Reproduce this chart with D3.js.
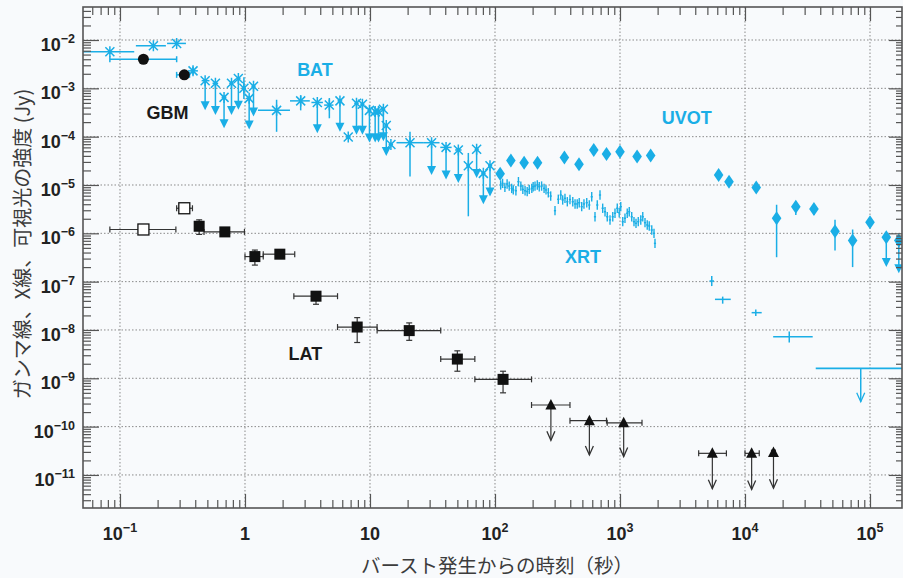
<!DOCTYPE html>
<html>
<head>
<meta charset="utf-8">
<script src="https://cdn.jsdelivr.net/npm/d3@7"></script>
<style>
  body { margin: 0; background: #f8fafc; }
  svg { display: block; font-family: "Liberation Sans", Arial, sans-serif; }
</style>
</head>
<body>
<div id="chart"></div>
<script>
// ---- data (time in s, flux in Jy) ----
// Swift BAT (asterisks); ul = upper limit, low = arrow tip for limits
const batT   = [0.083, 0.185, 0.284, 0.384, 0.48, 0.58, 0.68, 0.78, 0.885, 0.98, 1.08, 1.17, 1.79, 2.79, 3.79, 4.73, 5.75, 6.7, 7.8, 8.7, 9.9, 11, 11.7, 12.8, 13.5, 14.7, 20.9, 31.1, 40.6, 50.9, 61.2, 71.3, 80.7, 91.2];
const batF   = [5.7e-3, 7.6e-3, 8.5e-3, 2.3e-3, 1.44e-3, 1.27e-3, 6.5e-4, 1.27e-3, 1.6e-3, 1.0e-3, 6.2e-4, 1.1e-3, 3.5e-4, 5.5e-4, 5.1e-4, 4.5e-4, 5.5e-4, 9.8e-5, 4.9e-4, 4.7e-4, 3.5e-4, 3.3e-4, 3.3e-4, 3.7e-4, 1.7e-4, 6.9e-5, 7.5e-5, 7.5e-5, 6e-5, 5.3e-5, 2.5e-5, 5.5e-5, 1.74e-5, 2.5e-5];
const batTlo = [0.04, 0.134, 0.238, 0.35, 0.45, 0.55, 0.65, 0.75, 0.85, 0.94, 1.02, 1.13, 1.27, 2.29, 3.4, 4.3, 5.5, 6.4, 7.5, 8.4, 9.6, 10.7, 11.4, 12.4, 13.1, 14.1, 16.3, 26.6, 36.5, 48, 59, 69, 78, 88];
const batThi = [0.13, 0.233, 0.337, 0.42, 0.52, 0.61, 0.71, 0.81, 0.92, 1.02, 1.12, 1.21, 2.29, 3.3, 4.2, 5.1, 6.0, 7.0, 8.1, 9.0, 10.2, 11.3, 12.0, 13.2, 13.9, 15.3, 26.6, 36, 45, 54, 63, 74, 84, 95];
const batLow = [5.7e-3, 7.6e-3, 8.5e-3, 1.9e-3, 3.5e-4, 2.8e-4, 1.5e-4, 2.8e-4, 3.6e-4, 6e-4, 1.4e-4, 2.6e-4, 1.26e-4, 3.5e-4, 1.18e-4, 2.4e-4, 1.26e-4, 9.8e-5, 1.1e-4, 1.1e-4, 7.6e-5, 7.6e-5, 7.6e-5, 8e-5, 4e-5, 6.9e-5, 1.5e-5, 1.6e-5, 1.3e-5, 1.1e-5, 2.25e-6, 1.4e-5, 4e-6, 5.8e-6];
const batHigh = [5.7e-3, 7.6e-3, 8.5e-3, 2.8e-3, 1.44e-3, 1.27e-3, 6.5e-4, 1.27e-3, 1.6e-3, 1.7e-3, 6.2e-4, 1.1e-3, 5.8e-4, 7.2e-4, 5.1e-4, 6.3e-4, 5.5e-4, 9.8e-5, 4.9e-4, 4.7e-4, 3.5e-4, 3.3e-4, 3.3e-4, 3.7e-4, 1.7e-4, 6.9e-5, 1.26e-4, 7.5e-5, 6e-5, 5.3e-5, 4.6e-5, 5.5e-5, 1.74e-5, 2.5e-5];
const batUL  = [0, 0, 0, 0, 1, 1, 1, 1, 1, 0, 1, 1, 0, 0, 1, 0, 1, 0, 1, 1, 1, 1, 1, 1, 1, 0, 0, 1, 1, 1, 0, 1, 1, 1];

// Fermi GBM (filled circles)
const gbmT   = [0.154, 0.327];
const gbmF   = [4.0e-3, 1.9e-3];
const gbmTlo = [0.083, 0.284];
const gbmThi = [0.284, 0.36];

// Fermi LAT detections (squares, first two open)
const latT    = [0.154, 0.327, 0.43, 0.69, 1.2, 1.9, 3.7, 7.9, 20.6, 50, 116];
const latF    = [1.2e-6, 3.3e-6, 1.4e-6, 1.07e-6, 3.3e-7, 3.7e-7, 5e-8, 1.15e-8, 9.7e-9, 2.5e-9, 9.5e-10];
const latTlo  = [0.083, 0.284, 0.41, 0.47, 1.0, 1.4, 2.46, 5.5, 11.4, 36.8, 69];
const latThi  = [0.28, 0.38, 0.46, 0.99, 1.4, 2.5, 5.5, 11.4, 36.8, 69, 196];
const latFlo  = [1.05e-6, 2.9e-6, 0.95e-6, 1.07e-6, 2.2e-7, 3.4e-7, 3.4e-8, 5.5e-9, 6.1e-9, 1.4e-9, 5.0e-10];
const latFhi  = [1.35e-6, 3.7e-6, 1.9e-6, 1.07e-6, 4.5e-7, 4.1e-7, 6e-8, 1.8e-8, 1.4e-8, 3.7e-9, 1.4e-9];
const latOpen = [1, 1, 0, 0, 0, 0, 0, 0, 0, 0, 0];

// Fermi LAT upper limits (triangles)
const latUlT   = [280, 569, 1070, 5480, 11300, 16900];
const latUlF   = [2.8e-10, 1.33e-10, 1.2e-10, 2.8e-11, 2.8e-11, 2.9e-11];
const latUlTlo = [196, 398, 790, 4260, 10000, 16300];
const latUlThi = [398, 780, 1500, 7100, 13000, 17500];
const latUlTip = [5.2e-11, 2.6e-11, 2.4e-11, 5.2e-12, 5.0e-12, 5.3e-12];

// Swift UVOT (diamonds)
const uvotT  = [110, 134, 171, 219, 359, 470, 617, 780, 1000, 1370, 1760, 6150, 7450, 12300, 17900, 25500, 35600, 52500, 72600, 100000, 135000, 170000];
const uvotF  = [1.7e-5, 3.2e-5, 2.9e-5, 2.9e-5, 3.7e-5, 2.7e-5, 5.3e-5, 4.4e-5, 4.9e-5, 3.9e-5, 4.06e-5, 1.6e-5, 1.17e-5, 8.9e-6, 2.05e-6, 3.55e-6, 3.2e-6, 1.1e-6, 7.1e-7, 1.7e-6, 8.3e-7, 7.1e-7];
const uvotLo = [1.7e-5, 3.2e-5, 2.9e-5, 2.9e-5, 3.7e-5, 2.7e-5, 5.3e-5, 4.4e-5, 4.9e-5, 3.9e-5, 4.06e-5, 1.6e-5, 1.17e-5, 8.9e-6, 3.2e-7, 2.4e-6, 2.4e-6, 4.4e-7, 2e-7, 1.45e-6, 2.0e-7, 1.5e-7];
const uvotHi = [1.7e-5, 3.2e-5, 2.9e-5, 2.9e-5, 3.7e-5, 2.7e-5, 5.3e-5, 4.4e-5, 4.9e-5, 3.9e-5, 4.06e-5, 1.6e-5, 1.17e-5, 8.9e-6, 3.9e-6, 4.5e-6, 4.05e-6, 1.9e-6, 1.2e-6, 2.0e-6, 8.3e-7, 7.1e-7];
const uvotUL = [0, 0, 0, 0, 0, 0, 0, 0, 0, 0, 0, 0, 0, 0, 0, 0, 0, 0, 0, 0, 1, 1];

// Swift XRT early light curve (small crosses)
const xrtT = [111, 115, 120, 125, 130, 136, 140, 147, 154, 161, 167, 174, 181, 188, 197, 202, 209, 218, 226, 236, 247, 256, 267, 279, 302, 321, 336, 348, 363, 379, 398, 419, 437, 455, 472, 494, 515, 542, 568, 594, 631, 658, 692, 727, 759, 791, 832, 875, 912, 951, 986, 1014, 1052, 1096, 1143, 1186, 1241, 1294, 1343, 1400, 1466, 1521, 1585, 1652, 1714, 1795, 1871, 1905];
const xrtF = [1.0e-5, 1.08e-5, 8.95e-6, 1.05e-5, 9.5e-6, 8.5e-6, 7.9e-6, 7.6e-6, 1.17e-5, 9.5e-6, 8.1e-6, 7.6e-6, 7.3e-6, 8.1e-6, 8.5e-6, 9.2e-6, 9.5e-6, 1.0e-5, 9.2e-6, 9.5e-6, 8.5e-6, 7.9e-6, 6.9e-6, 5.9e-6, 2.94e-6, 5.06e-6, 6.2e-6, 4.9e-6, 5.3e-6, 4.5e-6, 5.0e-6, 4.5e-6, 4.05e-6, 4.05e-6, 4.3e-6, 3.56e-6, 4.05e-6, 4.3e-6, 3.85e-6, 5.7e-6, 2.2e-6, 3.85e-6, 6.2e-6, 3.3e-6, 2.8e-6, 2.2e-6, 1.89e-6, 2.2e-6, 2.6e-6, 3.3e-6, 2.67e-6, 3.56e-6, 1.74e-6, 2.05e-6, 2.6e-6, 2.8e-6, 2.2e-6, 1.74e-6, 1.61e-6, 1.74e-6, 1.89e-6, 2.2e-6, 1.66e-6, 1.49e-6, 1.42e-6, 1.17e-6, 1.0e-6, 6.2e-7];
const xrtTerr = 0.02;   // relative half-width of time bins
const xrtFerr = 0.25;   // relative flux error

// Swift XRT late points and the last upper limit
const xrtLateT   = [5420, 6630, 12200, 22600];
const xrtLateF   = [1.03e-7, 4.3e-8, 2.28e-8, 7.26e-9];
const xrtLateTlo = [5200, 5750, 11300, 16800];
const xrtLateThi = [5650, 7690, 13600, 34800];
const xrtLateFlo = [8.1e-8, 3.5e-8, 1.95e-8, 5.5e-9];
const xrtLateFhi = [1.31e-7, 4.9e-8, 2.65e-8, 9.3e-9];
const xrtUl = { tlo: 36800, thi: 200000, f: 1.61e-9, tArrow: 84300, tip: 3.28e-10 };

// instrument labels: [text, time, flux, colour key]
const instLabels = [
  ['BAT', 3.63, 1.8e-3, 'c'],
  ['GBM', 0.24, 2.3e-4, 'k'],
  ['UVOT', 3420, 1.8e-4, 'c'],
  ['XRT', 506, 2.4e-7, 'c'],
  ['LAT', 3.04, 2.4e-9, 'k']
];

const xMajor = [0.1, 1, 10, 100, 1000, 1e4, 1e5];
const yMajor = [1e-11, 1e-10, 1e-9, 1e-8, 1e-7, 1e-6, 1e-5, 1e-4, 1e-3, 1e-2];
const xTitle = 'バースト発生からの時刻（秒）';
const yTitle = 'ガンマ線、X線、可視光の強度 (Jy)';

// ---- layout ----
const cyan = '#1aaee6';
const ink = '#111';
const width = 903, height = 578;
const margin = { top: 7, right: 1, bottom: 70, left: 83 };
const innerW = width - margin.left - margin.right;
const innerH = height - margin.top - margin.bottom;

const svg = d3.select('#chart').append('svg')
  .attr('width', width).attr('height', height);
const g = svg.append('g').attr('transform', `translate(${margin.left},${margin.top})`);

const x = d3.scaleLog().domain([0.0506, 1.803e5]).range([0, innerW]);
const y = d3.scaleLog().domain([2.07e-12, 0.0482]).range([innerH, 0]);

function minors(scale, e0, e1) {
  const out = [];
  const [a, b] = scale.domain();
  for (let e = e0; e <= e1; e++) for (let k = 2; k <= 9; k++) {
    const v = k * Math.pow(10, e);
    if (v > a && v < b) out.push(v);
  }
  return out;
}
const xMinor = minors(x, -2, 5);
const yMinor = minors(y, -12, -2);

// grid
g.append('g').selectAll('line').data(xMajor).join('line')
  .attr('x1', d => x(d)).attr('x2', d => x(d)).attr('y1', 0).attr('y2', innerH)
  .attr('stroke', '#8a8a8a').attr('stroke-dasharray', '1.5,2');
g.append('g').selectAll('line').data(yMajor).join('line')
  .attr('y1', d => y(d)).attr('y2', d => y(d)).attr('x1', 0).attr('x2', innerW)
  .attr('stroke', '#8a8a8a').attr('stroke-dasharray', '1.5,2');

// clip for data
svg.append('defs').append('clipPath').attr('id', 'clip')
  .append('rect').attr('width', innerW).attr('height', innerH);
const p = g.append('g').attr('clip-path', 'url(#clip)');

function seg(sel, x1, y1, x2, y2, col, w) {
  return sel.append('line').attr('x1', x1).attr('y1', y1).attr('x2', x2).attr('y2', y2)
    .attr('stroke', col).attr('stroke-width', w || 1.5);
}
function filledHead(sel, cx, tipY, col) {
  sel.append('path').attr('d', `M${cx - 4.5},${tipY - 9}L${cx + 4.5},${tipY - 9}L${cx},${tipY}Z`).attr('fill', col);
}
function openHead(sel, cx, tipY, col) {
  sel.append('path').attr('d', `M${cx - 4},${tipY - 9}L${cx},${tipY}L${cx + 4},${tipY - 9}`)
    .attr('fill', 'none').attr('stroke', col).attr('stroke-width', 1.3);
}

// XRT early crosses
const xrtRows = xrtT.map((t, i) => ({ t, f: xrtF[i] }));
const xrtG = p.append('g').attr('stroke', cyan).attr('stroke-width', 1.4);
xrtG.selectAll('.xv').data(xrtRows).join('line').attr('class', 'xv')
  .attr('x1', d => x(d.t)).attr('x2', d => x(d.t))
  .attr('y1', d => y(d.f * (1 + xrtFerr))).attr('y2', d => y(d.f / (1 + xrtFerr)));
xrtG.selectAll('.xh').data(xrtRows).join('line').attr('class', 'xh')
  .attr('x1', d => x(d.t * (1 - xrtTerr))).attr('x2', d => x(d.t * (1 + xrtTerr)))
  .attr('y1', d => y(d.f)).attr('y2', d => y(d.f));

// XRT late crosses
xrtLateT.forEach((t, i) => {
  seg(p, x(xrtLateTlo[i]), y(xrtLateF[i]), x(xrtLateThi[i]), y(xrtLateF[i]), cyan);
  seg(p, x(t), y(xrtLateFhi[i]), x(t), y(xrtLateFlo[i]), cyan);
});
seg(p, x(xrtUl.tlo), y(xrtUl.f), x(xrtUl.thi), y(xrtUl.f), cyan, 1.8);
seg(p, x(xrtUl.tArrow), y(xrtUl.f), x(xrtUl.tArrow), y(xrtUl.tip), cyan);
openHead(p, x(xrtUl.tArrow), y(xrtUl.tip), cyan);

// BAT
const batRows = batT.map((t, i) => ({ t, f: batF[i], tlo: batTlo[i], thi: batThi[i], lo: batLow[i], hi: batHigh[i], ul: batUL[i] }));
const batG = p.append('g');
batRows.forEach(d => {
  const cx = x(d.t), cy = y(d.f);
  seg(batG, x(d.tlo), cy, x(d.thi), cy, cyan);
  if (d.ul) {
    seg(batG, cx, cy, cx, y(d.lo) - 6, cyan);
    filledHead(batG, cx, y(d.lo), cyan);
  } else if (d.lo !== d.hi) {
    seg(batG, cx, y(d.hi), cx, y(d.lo), cyan);
  }
  const s = 4.5;
  batG.append('path')
    .attr('d', `M${cx - s},${cy - s}L${cx + s},${cy + s}M${cx - s},${cy + s}L${cx + s},${cy - s}M${cx},${cy - 5.5}L${cx},${cy + 5.5}`)
    .attr('stroke', cyan).attr('stroke-width', 1.5).attr('fill', 'none');
  batG.append('circle').attr('cx', cx).attr('cy', cy).attr('r', 1.8).attr('fill', cyan);
});

// UVOT
const uvotRows = uvotT.map((t, i) => ({ t, f: uvotF[i], lo: uvotLo[i], hi: uvotHi[i], ul: uvotUL[i] }));
const uvG = p.append('g');
uvotRows.forEach(d => {
  const cx = x(d.t), cy = y(d.f);
  if (d.ul) {
    seg(uvG, cx, cy, cx, y(d.lo) - 6, cyan);
    filledHead(uvG, cx, y(d.lo), cyan);
  } else if (d.lo !== d.hi) {
    seg(uvG, cx, y(d.hi), cx, y(d.lo), cyan);
  }
});
uvG.selectAll('path.dia').data(uvotRows).join('path').attr('class', 'dia')
  .attr('d', d => `M${x(d.t)},${y(d.f) - 7}L${x(d.t) + 4.8},${y(d.f)}L${x(d.t)},${y(d.f) + 7}L${x(d.t) - 4.8},${y(d.f)}Z`)
  .attr('fill', cyan);

// GBM
const gbmRows = gbmT.map((t, i) => ({ t, f: gbmF[i], tlo: gbmTlo[i], thi: gbmThi[i] }));
const gbG = p.append('g');
gbmRows.forEach(d => {
  const cy = y(d.f);
  seg(gbG, x(d.tlo), cy, x(d.thi), cy, cyan);
  seg(gbG, x(d.tlo), cy - 3, x(d.tlo), cy + 3, cyan);
  seg(gbG, x(d.thi), cy - 3, x(d.thi), cy + 3, cyan);
});
gbG.selectAll('circle').data(gbmRows).join('circle')
  .attr('cx', d => x(d.t)).attr('cy', d => y(d.f)).attr('r', 5.5).attr('fill', ink);

// LAT detections
const latRows = latT.map((t, i) => ({ t, f: latF[i], tlo: latTlo[i], thi: latThi[i], lo: latFlo[i], hi: latFhi[i], open: latOpen[i] }));
const laG = p.append('g');
const grey = '#333';
latRows.forEach(d => {
  const cx = x(d.t), cy = y(d.f);
  seg(laG, x(d.tlo), cy, x(d.thi), cy, grey, 1.2);
  seg(laG, x(d.tlo), cy - 3, x(d.tlo), cy + 3, grey, 1.2);
  seg(laG, x(d.thi), cy - 3, x(d.thi), cy + 3, grey, 1.2);
  if (d.lo !== d.hi) {
    seg(laG, cx, y(d.hi), cx, y(d.lo), grey, 1.2);
    seg(laG, cx - 3, y(d.hi), cx + 3, y(d.hi), grey, 1.2);
    seg(laG, cx - 3, y(d.lo), cx + 3, y(d.lo), grey, 1.2);
  }
});
laG.selectAll('rect').data(latRows).join('rect')
  .attr('x', d => x(d.t) - 5.5).attr('y', d => y(d.f) - 5.5)
  .attr('width', 11).attr('height', 11)
  .attr('fill', d => d.open ? '#fff' : ink)
  .attr('stroke', ink).attr('stroke-width', d => d.open ? 1.3 : 0);

// LAT upper limits
const latUlRows = latUlT.map((t, i) => ({ t, f: latUlF[i], tlo: latUlTlo[i], thi: latUlThi[i], tip: latUlTip[i] }));
latUlRows.forEach(d => {
  const cx = x(d.t), cy = y(d.f);
  seg(laG, x(d.tlo), cy, x(d.thi), cy, grey, 1.2);
  seg(laG, x(d.tlo), cy - 3, x(d.tlo), cy + 3, grey, 1.2);
  seg(laG, x(d.thi), cy - 3, x(d.thi), cy + 3, grey, 1.2);
  seg(laG, cx, cy, cx, y(d.tip), grey, 1.2);
  openHead(laG, cx, y(d.tip), grey);
});
laG.selectAll('path.tri').data(latUlRows).join('path').attr('class', 'tri')
  .attr('d', d => `M${x(d.t) - 5.5},${y(d.f) + 4.5}L${x(d.t) + 5.5},${y(d.f) + 4.5}L${x(d.t)},${y(d.f) - 6}Z`)
  .attr('fill', ink);

// instrument labels
g.append('g').selectAll('text').data(instLabels).join('text')
  .attr('x', d => x(d[1])).attr('y', d => y(d[2]))
  .attr('text-anchor', 'middle')
  .attr('font-size', 18).attr('font-weight', 'bold')
  .attr('fill', d => d[3] === 'c' ? cyan : '#1a1a1a')
  .text(d => d[0]);

// ---- axes (ticks point inward) ----
const frameCol = '#555';
function tickAxis(axis, vals, size, transform) {
  const a = g.append('g').attr('transform', transform || null)
    .call(axis.tickValues(vals).tickSize(size).tickSizeOuter(0).tickFormat(''));
  a.select('.domain').remove();
  a.selectAll('line').attr('stroke', frameCol).attr('stroke-width', 1.2);
  return a;
}
tickAxis(d3.axisBottom(x), xMajor, -14, `translate(0,${innerH})`);
tickAxis(d3.axisBottom(x), xMinor, -8, `translate(0,${innerH})`);
tickAxis(d3.axisTop(x), xMajor, -14);
tickAxis(d3.axisTop(x), xMinor, -8);
tickAxis(d3.axisLeft(y), yMajor, -16);
tickAxis(d3.axisLeft(y), yMinor, -8);
tickAxis(d3.axisRight(y), yMajor, -13, `translate(${innerW},0)`);
tickAxis(d3.axisRight(y), yMinor, -6, `translate(${innerW},0)`);

g.append('rect').attr('width', innerW).attr('height', innerH)
  .attr('fill', 'none').attr('stroke', frameCol).attr('stroke-width', 1.6);

// tick labels 10^n
function powLabel(t, v) {
  const e = Math.round(Math.log10(v));
  if (e === 0) { t.text('1'); return; }
  if (e === 1) { t.text('10'); return; }
  t.append('tspan').text('10');
  t.append('tspan').attr('dy', -8).attr('font-size', 12.5).text(e < 0 ? '\u2212' + (-e) : String(e));
}
g.append('g').selectAll('text').data(xMajor).join('text')
  .attr('x', d => x(d)).attr('y', innerH + 32)
  .attr('text-anchor', 'middle').attr('font-size', 18).attr('font-weight', 'bold').attr('fill', '#222')
  .each(function (d) { powLabel(d3.select(this), d); });
g.append('g').selectAll('text').data(yMajor).join('text')
  .attr('x', -8).attr('y', d => y(d) + 11)
  .attr('text-anchor', 'end').attr('font-size', 18).attr('font-weight', 'bold').attr('fill', '#222')
  .each(function (d) { powLabel(d3.select(this), d); });

// axis titles
svg.append('text')
  .attr('x', margin.left + x(104)).attr('y', 564)
  .attr('text-anchor', 'middle').attr('dominant-baseline', 'central')
  .attr('font-family', '"Noto Sans CJK JP", sans-serif').attr('font-size', 19.5).attr('fill', '#3c3c3c')
  .text(xTitle);
svg.append('text')
  .attr('transform', 'translate(21,244) rotate(-90)')
  .attr('text-anchor', 'middle').attr('dominant-baseline', 'central')
  .attr('font-family', '"Noto Sans CJK JP", sans-serif').attr('font-size', 20).attr('fill', '#3c3c3c')
  .text(yTitle);
</script>
</body>
</html>
